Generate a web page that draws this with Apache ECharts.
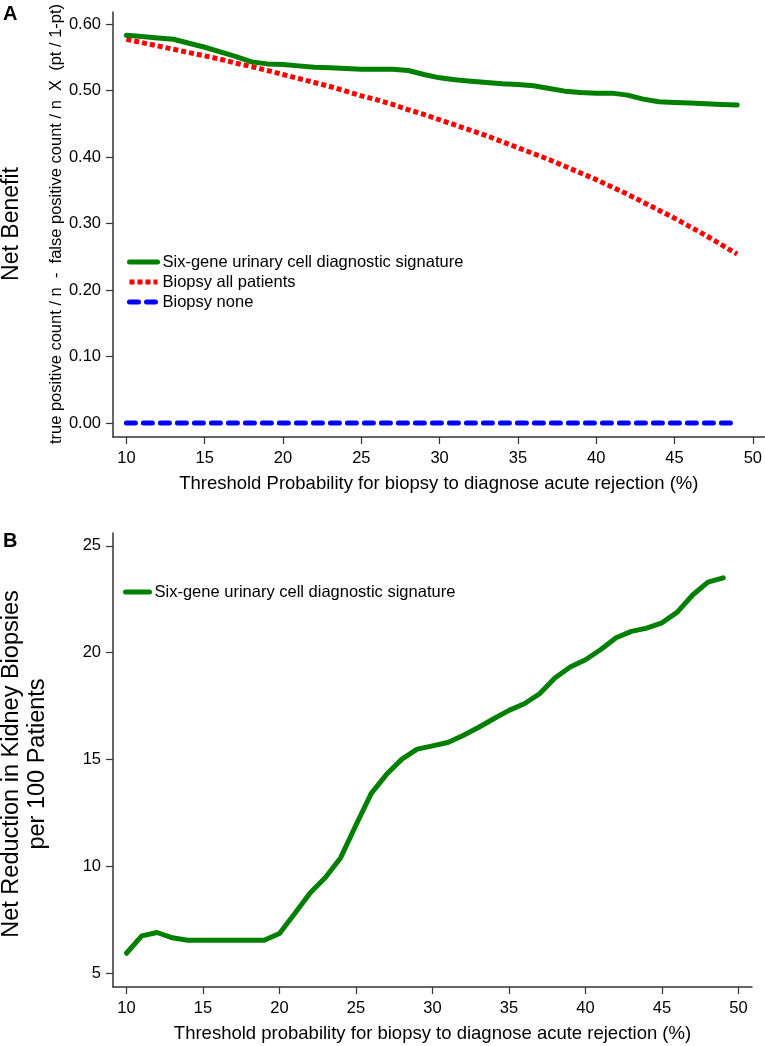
<!DOCTYPE html>
<html>
<head>
<meta charset="utf-8">
<script src="https://cdn.jsdelivr.net/npm/echarts@6/dist/echarts.min.js"></script>
<style>
html,body{margin:0;padding:0;background:#fff;}
#chart{width:765px;height:1046px;}
</style>
</head>
<body>
<div id="chart"></div>
<script>
// ---- Data ----
const thresholds = [10,11,12,13,14,15,16,17,18,19,20,21,22,23,24,25,26,27,28,29,30,31,32,33,34,35,36,37,38,39,40,41,42,43,44,45,46,47,48,49];

// Panel A: net benefit
const sixGeneNB = [0.583,0.581,0.579,0.577,0.571,0.565,0.558,0.551,0.543,0.540,
                   0.539,0.537,0.535,0.534,0.533,0.532,0.532,0.532,0.530,0.524,
                   0.519,0.516,0.514,0.512,0.510,0.509,0.507,0.503,0.499,0.497,
                   0.496,0.496,0.493,0.487,0.483,0.482,0.481,0.480,0.479,0.478];
const biopsyAllNB = [0.577,0.572,0.567,0.562,0.557,0.552,0.547,0.541,0.536,0.530,
                     0.524,0.518,0.512,0.506,0.499,0.492,0.486,0.479,0.471,0.464,
                     0.456,0.448,0.440,0.432,0.423,0.414,0.405,0.396,0.386,0.376,
                     0.366,0.355,0.344,0.332,0.320,0.308,0.295,0.282,0.268,0.254];
const biopsyNoneNB = [0,0,0,0,0,0,0,0,0,0,0,0,0,0,0,0,0,0,0,0,
                      0,0,0,0,0,0,0,0,0,0,0,0,0,0,0,0,0,0,0,0];

// Panel B: net reduction in biopsies per 100 patients
const sixGeneReduction = [5.94,6.75,6.91,6.66,6.55,6.55,6.55,6.55,6.55,6.55,
                          6.86,7.80,8.76,9.48,10.41,11.94,13.42,14.31,15.02,15.49,
                          15.64,15.80,16.13,16.50,16.91,17.30,17.61,18.08,18.82,19.33,
                          19.67,20.15,20.70,21.00,21.15,21.40,21.90,22.70,23.30,23.50];

// Tick labels
const xTicks = [10,15,20,25,30,35,40,45,50];
const yTicksA = [0,0.1,0.2,0.3,0.4,0.5,0.6];
const yTicksB = [5,10,15,20,25];

const nameSix = 'Six-gene urinary cell diagnostic signature';
const nameAll = 'Biopsy all patients';
const nameNone = 'Biopsy none';

// ---- Chart ----
const FONT = 'Liberation Sans, Arial, Helvetica, sans-serif';
const AXC = '#333333';
const pairs = (ys) => thresholds.map((t, i) => [t, ys[i]]);

function xAxisCfg(gi, min, max, title) {
  return {
    type: 'value', gridIndex: gi, min: min, max: max,
    splitLine: {show: false},
    axisLine: {show: true, onZero: false, lineStyle: {color: AXC, width: 1.5}},
    axisTick: {show: true, customValues: xTicks, length: 7, lineStyle: {color: AXC, width: 1.2}},
    axisLabel: {customValues: xTicks, margin: 13, fontSize: 16.5, color: '#000', fontFamily: FONT},
    name: title, nameLocation: 'middle', nameGap: 37,
    nameTextStyle: {fontSize: 18.5, color: '#000', fontFamily: FONT}
  };
}
function yAxisCfg(gi, min, max, ticks, fmt) {
  return {
    type: 'value', gridIndex: gi, min: min, max: max,
    splitLine: {show: false},
    axisLine: {show: true, onZero: false, lineStyle: {color: AXC, width: 1.5}},
    axisTick: {show: true, customValues: ticks, length: 7, lineStyle: {color: AXC, width: 1.2}},
    axisLabel: {customValues: ticks, margin: 12, fontSize: 16.5, color: '#000', fontFamily: FONT, formatter: fmt}
  };
}

const legendCommon = {
  orient: 'vertical', itemGap: 0, padding: 0, itemHeight: 14,
  textStyle: {fontSize: 16.5, color: '#000', fontFamily: FONT, lineHeight: 20},
  lineStyle: {width: 5},
  itemStyle: {opacity: 0},
  selectedMode: false
};

const chart = echarts.init(document.getElementById('chart'), null, {renderer: 'canvas'});
chart.setOption({
  animation: false,
  backgroundColor: '#ffffff',
  grid: [
    {left: 113, right: 0, top: 12, height: 425},
    {left: 113, right: 13, top: 533, height: 454}
  ],
  xAxis: [
    xAxisCfg(0, 9.145, 50.75, 'Threshold Probability for biopsy to diagnose acute rejection (%)'),
    xAxisCfg(1, 9.12, 50.88, 'Threshold probability for biopsy to diagnose acute rejection (%)')
  ],
  yAxis: [
    yAxisCfg(0, -0.021, 0.618, yTicksA, v => v.toFixed(2)),
    yAxisCfg(1, 4.36, 25.6, yTicksB, v => String(v))
  ],
  legend: [
    Object.assign({}, legendCommon, {data: [nameSix, nameAll, nameNone], left: 127, top: 252, itemWidth: 28}),
    Object.assign({}, legendCommon, {data: [nameSix], left: 123, top: 582, itemWidth: 24})
  ],
  series: [
    {
      name: nameAll, type: 'line', xAxisIndex: 0, yAxisIndex: 0,
      data: pairs(biopsyAllNB), showSymbol: false, symbol: 'none',
      lineStyle: {color: '#ff0000', width: 5, type: [5, 3], cap: 'butt'},
      itemStyle: {color: '#ff0000'}, z: 2
    },
    {
      name: nameSix, type: 'line', xAxisIndex: 0, yAxisIndex: 0,
      data: pairs(sixGeneNB), showSymbol: false, symbol: 'none',
      lineStyle: {color: '#007f00', width: 5, cap: 'round', join: 'round'},
      itemStyle: {color: '#007f00'}, z: 3
    },
    {
      name: nameNone, type: 'line', xAxisIndex: 0, yAxisIndex: 0,
      data: pairs(biopsyNoneNB), showSymbol: false, symbol: 'none',
      lineStyle: {color: '#0000ff', width: 5, type: [9, 8], cap: 'round'},
      itemStyle: {color: '#0000ff'}, z: 2
    },
    {
      name: nameSix, type: 'line', xAxisIndex: 1, yAxisIndex: 1,
      data: pairs(sixGeneReduction), showSymbol: false, symbol: 'none',
      lineStyle: {color: '#007f00', width: 5, cap: 'round', join: 'round'},
      itemStyle: {color: '#007f00'}, z: 3
    }
  ],
  graphic: [
    {type: 'text', left: 3, top: 4, style: {text: 'A', fontSize: 20, fontWeight: 'bold', fill: '#000', fontFamily: FONT}},
    {type: 'text', left: 3, top: 531, style: {text: 'B', fontSize: 20, fontWeight: 'bold', fill: '#000', fontFamily: FONT}},
    {type: 'text', x: 12, y: 224, rotation: Math.PI / 2,
     style: {text: 'Net Benefit', fontSize: 23, fill: '#000', fontFamily: FONT, align: 'center', verticalAlign: 'middle'}},
    {type: 'text', x: 56, y: 224, rotation: Math.PI / 2,
     style: {text: 'true positive count / n  -  false positive count / n  X  (pt / 1-pt)', fontSize: 16.5, fill: '#000', fontFamily: FONT, align: 'center', verticalAlign: 'middle'}},
    {type: 'text', x: 25, y: 764, rotation: Math.PI / 2,
     style: {text: 'Net Reduction in Kidney Biopsies\nper 100 Patients', fontSize: 23.5, lineHeight: 26, fill: '#000', fontFamily: FONT, align: 'center', verticalAlign: 'middle'}}
  ]
});
</script>
</body>
</html>
